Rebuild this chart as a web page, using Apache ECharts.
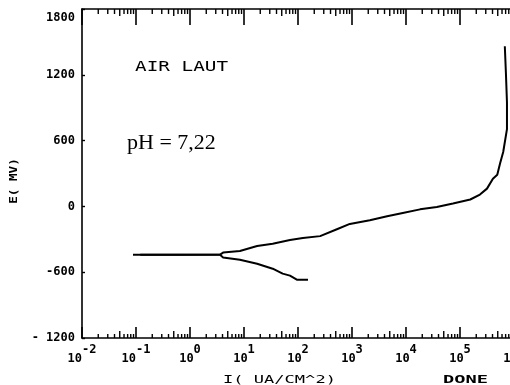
<!DOCTYPE html>
<html lang="en">
  <head>
    <meta charset="UTF-8" />
    <title>Polarization curve - air laut</title>
    <script src="https://cdn.jsdelivr.net/npm/echarts@6/dist/echarts.min.js"></script>
    <style>
      html, body { margin: 0; padding: 0; background: #fff; }
      #main { width: 510px; height: 385px; }
    </style>
  </head>
  <body>
    <div id="main"></div>
    <script>
      // current density (uA/cm2) and potential (mV)
      const cathodicI = [0.088, 0.5, 3.6, 4.1, 8.4, 17.5, 34, 52, 71, 95, 153];
      const cathodicE = [-442, -442, -441, -466, -487, -523, -568, -613, -631, -668, -668];

      const anodicI = [0.12, 0.6, 3.6, 4.1, 8.4, 17.5, 34, 71, 123, 257, 525, 912,
        2140, 4470, 8710, 18200, 37200, 74100, 155000, 234000, 316000, 407000,
        490000, 550000, 631000, 741000, 741000, 708000, 676000];
      const anodicE = [-440, -440, -439, -421, -406, -361, -340, -307, -289, -271, -208, -160,
        -126, -90, -60, -27, -6, 27, 63, 108, 162, 253,
        289, 388, 496, 704, 947, 1218, 1461];

      const yTicks = [-1200, -600, 0, 600, 1200, 1800];
      const xDecades = [-2, -1, 0, 1, 2, 3, 4, 5, 6];
      const minorSteps = [2, 3, 4, 5, 6, 7, 8, 9];

      const Y_MIN = yTicks[0];
      const Y_MAX = yTicks[yTicks.length - 1];
      const X_MIN = Math.pow(10, xDecades[0]);
      const X_MAX = Math.pow(10, xDecades[xDecades.length - 1]);

      const minorTicks = [];
      xDecades.slice(0, -1).forEach(function (d) {
        minorSteps.forEach(function (k) {
          minorTicks.push([k * Math.pow(10, d), k]);
        });
      });

      const mono = '"DejaVu Sans Mono", monospace';

      var myChart = echarts.init(document.getElementById('main'), null, { renderer: 'canvas' });

      const options = {
        backgroundColor: '#fff',
        animation: false,
        grid: { left: 82, top: 9, width: 432, height: 329, outerBoundsMode: 'none', containLabel: false },
        xAxis: [
          {
            type: 'log',
            logBase: 10,
            min: X_MIN,
            max: X_MAX,
            interval: 1,
            splitNumber: 8,
            position: 'bottom',
            axisLine: { onZero: false, lineStyle: { color: '#000', width: 1.6 } },
            axisTick: { inside: true, length: 11, lineStyle: { color: '#000', width: 1.6 } },
            splitLine: { show: false },
            axisLabel: {
              margin: 6,
              hideOverlap: false,
              formatter: function (v) {
                return '{b|10}{e|' + Math.round(Math.log10(v)) + '}';
              },
              rich: {
                b: { fontFamily: mono, fontWeight: 'bold', fontSize: 12, color: '#000' },
                e: { fontFamily: mono, fontWeight: 'bold', fontSize: 12, color: '#000', padding: [0, 0, 18, 0] }
              }
            }
          },
          {
            type: 'log',
            logBase: 10,
            min: X_MIN,
            max: X_MAX,
            interval: 1,
            splitNumber: 8,
            position: 'top',
            axisLine: { onZero: false, lineStyle: { color: '#000', width: 1.6 } },
            axisTick: { inside: true, length: 16, lineStyle: { color: '#000', width: 1.6 } },
            axisLabel: { show: false },
            splitLine: { show: false }
          }
        ],
        yAxis: {
          type: 'value',
          min: Y_MIN,
          max: Y_MAX,
          interval: 600,
          axisLine: { show: true, onZero: false, lineStyle: { color: '#000', width: 1.6 } },
          axisTick: { show: true, inside: true, length: 3, lineStyle: { color: '#000', width: 1.4 } },
          splitLine: { show: false },
          axisLabel: {
            margin: 7,
            fontFamily: mono,
            fontWeight: 'bold',
            fontSize: 12,
            color: '#000',
            formatter: function (v) {
              if (v === Y_MAX) return '{top|' + v + '}';
              if (v === Y_MIN) return '- ' + Math.abs(v);
              return String(v);
            },
            rich: {
              top: { fontFamily: mono, fontWeight: 'bold', fontSize: 12, color: '#000', padding: [18, 0, 0, 0] }
            }
          }
        },
        graphic: [
          {
            type: 'text', x: 135, y: 60, scaleX: 1.38,
            style: { text: 'AIR LAUT', fontFamily: mono, fontSize: 14, fill: '#000' }
          },
          {
            type: 'text', x: 127, y: 132,
            style: { text: 'pH = 7,22', fontFamily: '"Liberation Serif", serif', fontSize: 22, fill: '#000' }
          },
          {
            type: 'text', x: 14, y: 181, rotation: Math.PI / 2, scaleX: 1.15,
            style: { text: 'E( MV)', fontFamily: mono, fontWeight: 'bold', fontSize: 11, fill: '#000', align: 'center', verticalAlign: 'middle' }
          },
          {
            type: 'text', x: 223, y: 375, scaleX: 1.55,
            style: { text: 'I( UA/CM^2)', fontFamily: mono, fontSize: 11, fill: '#000' }
          },
          {
            type: 'text', x: 443, y: 375, scaleX: 1.7,
            style: { text: 'DONE', fontFamily: mono, fontWeight: 'bold', fontSize: 11, fill: '#000' }
          }
        ],
        series: [
          {
            name: 'cathodic',
            type: 'line',
            showSymbol: false,
            lineStyle: { color: '#000', width: 2 },
            data: cathodicI.map(function (x, i) { return [x, cathodicE[i]]; })
          },
          {
            name: 'anodic',
            type: 'line',
            showSymbol: false,
            lineStyle: { color: '#000', width: 2 },
            data: anodicI.map(function (x, i) { return [x, anodicE[i]]; })
          },
          {
            name: 'minor ticks',
            type: 'custom',
            silent: true,
            data: minorTicks,
            renderItem: function (params, api) {
              const v = api.value(0);
              const k = api.value(1);
              const b = api.coord([v, Y_MIN]);
              const t = api.coord([v, Y_MAX]);
              const lb = k === 5 ? 7 : 4;
              const lt = k === 5 ? 7 : 5;
              const style = { stroke: '#000', lineWidth: 1.4 };
              return {
                type: 'group',
                children: [
                  { type: 'line', shape: { x1: b[0], y1: b[1], x2: b[0], y2: b[1] - lb }, style: style },
                  { type: 'line', shape: { x1: t[0], y1: t[1], x2: t[0], y2: t[1] + lt }, style: style }
                ]
              };
            }
          }
        ]
      };

      myChart.setOption(options);
    </script>
  </body>
</html>
